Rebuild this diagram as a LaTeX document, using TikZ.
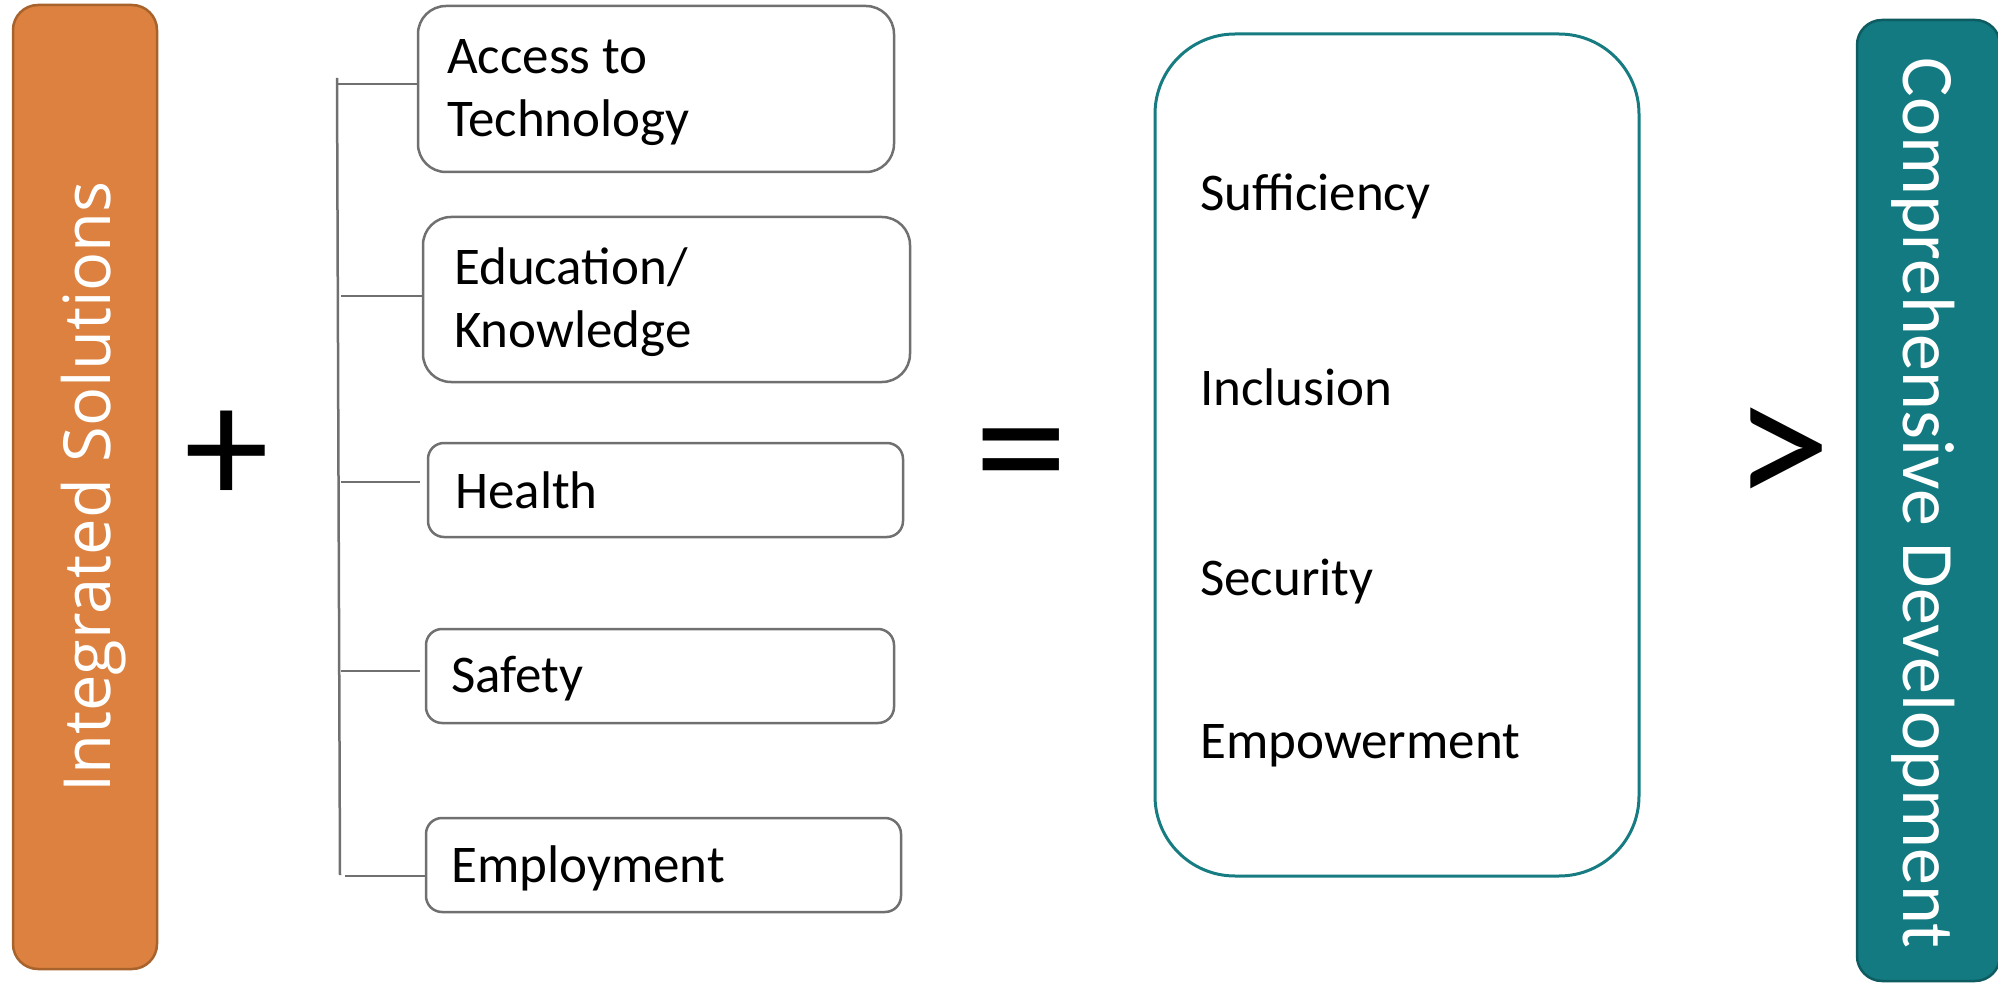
\documentclass[tikz,border=0pt]{standalone}
\usepackage{fontspec}
\setmainfont{Carlito}
\newfontfamily\opensans{Open Sans}
\definecolor{orangefill}{RGB}{220,129,64}
\definecolor{orangeline}{RGB}{168,98,44}
\definecolor{tealfill}{RGB}{18,122,128}
\definecolor{tealedge}{RGB}{14,92,97}
\definecolor{tealline}{RGB}{22,124,130}
\definecolor{boxgray}{RGB}{112,112,112}
\begin{document}
\begin{tikzpicture}[x=1pt,y=-1pt,
  sidebox/.style={draw, line width=2.5pt, rounded corners=25pt, inner sep=0pt},
  bigbox/.style={draw=boxgray, line width=2.5pt, rounded corners=28pt, inner sep=0pt, minimum height=166pt},
  smallbox/.style={draw=boxgray, line width=2.5pt, rounded corners=16pt, inner sep=0pt, minimum height=94pt},
  itemtext/.style={anchor=base west, inner sep=0pt, font=\fontsize{53}{63}\selectfont},
  link/.style={draw=boxgray, line width=2.5pt},
  sign/.style={anchor=base, inner sep=0pt, font=\fontsize{188}{200}\selectfont}]
\useasboundingbox (0,0) rectangle (1998,984);

% left orange box
\node[sidebox, draw=orangeline, fill=orangefill, minimum width=144pt, minimum height=964pt] (is) at (85,487) {};
\node[anchor=base, rotate=90, inner sep=0pt, text=white, font=\opensans\fontsize{65}{78}\selectfont] (istext) at (110,487) {Integrated Solutions};

% plus
\node[sign, font=\fontsize{170}{180}\selectfont] (plus) at (226.5,504) {+};

% item boxes
\node[bigbox, minimum width=476pt] (b1) at (656,89) {};
\node[bigbox, minimum width=487pt, minimum height=165pt] (b2) at (666.5,299.5) {};
\node[smallbox, minimum width=475pt] (b3) at (665.5,490) {};
\node[smallbox, minimum width=468pt] (b4) at (660,676) {};
\node[smallbox, minimum width=475pt] (b5) at (663.5,865) {};

\node[itemtext] (t1a) at (447,74) {Access to};
\node[itemtext] (t1b) at (447,137) {Technology};
\node[itemtext] (t2a) at (454,285) {Education/};
\node[itemtext] (t2b) at (454,348) {Knowledge};
\node[itemtext] (t3) at (455,508) {Health};
\node[itemtext] (t4) at (451,692) {Safety};
\node[itemtext] (t5) at (451,882) {Employment};

% spine and branches
\coordinate (sT) at (337,78);
\coordinate (sB) at (340,875);
\draw[link] (sT) -- (sB);
\coordinate (c1) at (338,84);
\coordinate (c2) at (341,296);
\coordinate (c3) at (341,482);
\coordinate (c4) at (341,671);
\coordinate (c5) at (345,876);
\draw[link] (c1) -- (c1 -| b1.west);
\draw[link] (c2) -- (c2 -| b2.west);
\draw[link] (c3) -- ([xshift=-7pt]c3 -| b3.west);
\draw[link] (c4) -- ([xshift=-5pt]c4 -| b4.west);
\draw[link] (c5) -- (c5 -| b5.west);

% equals
\node[sign] (eq) at (1021,509) {=};

% result box
\node[draw=tealline, line width=3pt, rounded corners=80pt, minimum width=484pt, minimum height=842pt, inner sep=0pt] (res) at (1397,455) {};
\node[itemtext] (r1) at (1200,211) {Sufficiency};
\node[itemtext] (r2) at (1200,405) {Inclusion};
\node[itemtext] (r3) at (1200,595) {Security};
\node[itemtext] (r4) at (1200,758) {Empowerment};

% greater than
\node[sign, font=\fontsize{196}{200}\selectfont] (gt) at (1782,510) {>};

% right teal box
\node[sidebox, draw=tealedge, fill=tealfill, minimum width=143pt, minimum height=961pt] (cd) at (1928.5,500.5) {};
\node[anchor=base, rotate=-90, inner sep=0pt, text=white, font=\fontsize{74}{88}\selectfont] (cdtext) at (1903,503) {Comprehensive Development};
\end{tikzpicture}
\end{document}
